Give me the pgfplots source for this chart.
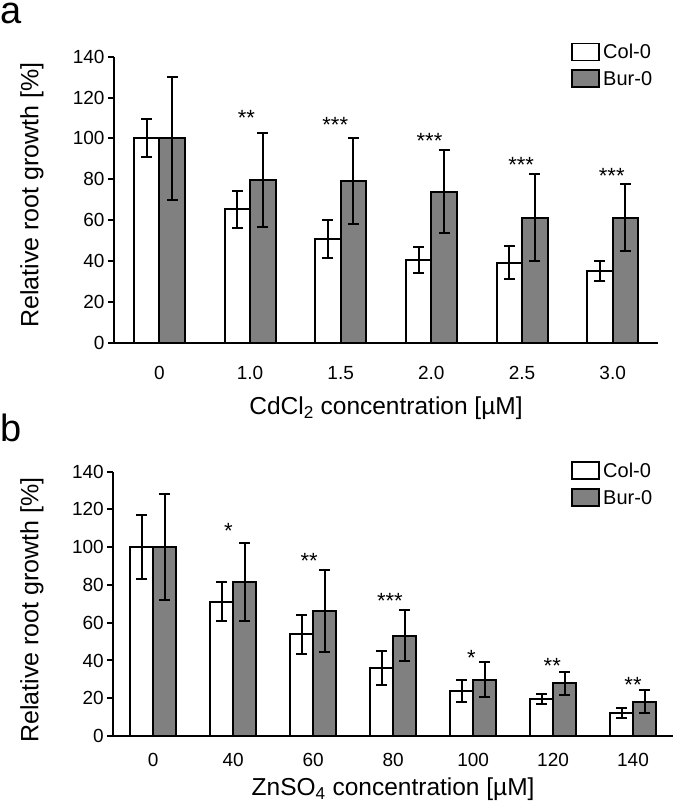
\documentclass[border=0pt]{standalone}
\usepackage{fontspec}
\setmainfont{Liberation Sans}
\usepackage{pgfplots}
\pgfplotsset{compat=1.18}
\definecolor{burgray}{RGB}{128,128,128}

\tikzset{star/.style={anchor=base, font=\fontsize{22}{26}\selectfont, inner sep=0pt}}
\pgfplotsset{
  myaxis/.style={
    scale only axis,
    ybar,
    clip=false,
    ymin=0, ymax=140, ytick={0,20,...,140},
    axis x line*=bottom, axis y line*=left,
    axis line style={line width=2pt, -},
    every inner x axis line/.append style={-},
    every inner y axis line/.append style={-},
    every outer x axis line/.append style={-},
    every outer y axis line/.append style={-},
    tick align=outside,
    major tick length=6pt,
    ytick style={line width=2pt, black},
    xtick style={draw=none},
    /pgf/number format/assume math mode=true,
    yticklabel style={font=\fontsize{19}{22}\selectfont},
    xlabel style={font=\fontsize{24.5}{29}\selectfont},
    ylabel style={font=\fontsize{25}{30}\selectfont, anchor=south},
    legend cell align=left,
    legend image code/.code={\draw[##1, line width=1.8pt] (0pt,-1.5pt) rectangle (27pt,15.5pt);},
    legend style={draw=none, fill=none, inner sep=0pt, row sep=8pt, column sep=3pt,
      font=\fontsize{20}{24}\selectfont, nodes={inner sep=0pt, anchor=base west}},
    error bars/y dir=both, error bars/y explicit,
    error bars/error bar style={line width=2pt, black},
    error bars/error mark options={rotate=90, line width=2pt, black, mark size=5.5pt},
  },
  colbar/.style={fill=white, draw=black, line width=2pt},
  burbar/.style={fill=burgray, draw=black, line width=2pt},
}

\begin{document}
\begin{tikzpicture}
\useasboundingbox (0pt,0pt) rectangle (675pt,806pt);

% ---------------- panel a ----------------
\begin{axis}[myaxis,
  at={(114pt,463.3pt)}, anchor=south west,
  width=544pt, height=286pt,
  xmin=-0.5, xmax=5.5,
  xtick={0,1,2,3,4,5},
  xticklabels={0,1.0,1.5,2.0,2.5,3.0},
  xticklabel style={font=\fontsize{19}{22}\selectfont, yshift=-13.7pt},
  bar width=25.5pt,
  xlabel={CdCl\textsubscript{2} concentration [µM]},
  xlabel style={at={(axis description cs:0.5,0)}, anchor=base, yshift=-72.3pt},
  ylabel={Relative root growth [\%]},
  ylabel style={at={(axis description cs:-0.123,0.516)}},
  legend style={at={(rel axis cs:0.8405,1.05)}, anchor=north west},
]
\addplot[colbar, bar shift=-12.75pt] coordinates {
  (0,100) +- (0,9.3)
  (1,65.3) +- (0,9.0)
  (2,50.9) +- (0,9.2)
  (3,40.5) +- (0,6.5)
  (4,39.2) +- (0,8.0)
  (5,35.2) +- (0,5.0)
};
\addlegendentry{Col-0}
\addplot[burbar, bar shift=12.75pt] coordinates {
  (0,100) +- (0,30.2)
  (1,79.6) +- (0,23.2)
  (2,79.1) +- (0,21.2)
  (3,73.9) +- (0,20.2)
  (4,61.2) +- (0,21.4)
  (5,61.2) +- (0,16.4)
};
\addlegendentry{Bur-0}
\node[star] at (axis cs:0.96,106.4) {**};
\node[star] at (axis cs:1.94,103.0) {***};
\node[star] at (axis cs:2.98,95.1) {***};
\node[star] at (axis cs:3.99,83.1) {***};
\node[star] at (axis cs:4.99,77.7) {***};
\end{axis}

% ---------------- panel b ----------------
\begin{axis}[myaxis,
  at={(113.3pt,70pt)}, anchor=south west,
  width=559.7pt, height=264.3pt,
  xmin=-0.5, xmax=6.5,
  xtick={0,1,2,3,4,5,6},
  xticklabels={0,40,60,80,100,120,140},
  xticklabel style={font=\fontsize{19}{22}\selectfont, yshift=-7.7pt},
  bar width=23pt,
  xlabel={ZnSO\textsubscript{4} concentration [µM]},
  xlabel style={at={(axis description cs:0.5,0)}, anchor=base, yshift=-59.7pt},
  ylabel={Relative root growth [\%]},
  ylabel style={at={(axis description cs:-0.1185,0.477)}},
  legend style={at={(rel axis cs:0.8182,1.041)}, anchor=north west},
]
\addplot[colbar, bar shift=-11.5pt] coordinates {
  (0,100) +- (0,17)
  (1,71.1) +- (0,10.3)
  (2,53.8) +- (0,10.3)
  (3,35.8) +- (0,9.0)
  (4,23.8) +- (0,6.0)
  (5,19.4) +- (0,2.7)
  (6,12.0) +- (0,2.7)
};
\addlegendentry{Col-0}
\addplot[burbar, bar shift=11.5pt] coordinates {
  (0,100) +- (0,28)
  (1,81.6) +- (0,20.8)
  (2,66.2) +- (0,21.7)
  (3,53.1) +- (0,13.5)
  (4,29.7) +- (0,9.3)
  (5,27.9) +- (0,6.2)
  (6,18.2) +- (0,6.2)
};
\addlegendentry{Bur-0}
\node[star] at (axis cs:0.94,104.6) {*};
\node[star] at (axis cs:1.95,88.7) {**};
\node[star] at (axis cs:2.96,67.6) {***};
\node[star] at (axis cs:3.98,37.5) {*};
\node[star] at (axis cs:4.99,33.1) {**};
\node[star] at (axis cs:6.0,23.0) {**};
\end{axis}

\node[anchor=base west, inner sep=0pt, font=\fontsize{38}{46}\selectfont] at (0.5pt,782pt) {a};
\node[anchor=base west, inner sep=0pt, font=\fontsize{38}{46}\selectfont] at (0.5pt,364.3pt) {b};
\end{tikzpicture}
\end{document}
